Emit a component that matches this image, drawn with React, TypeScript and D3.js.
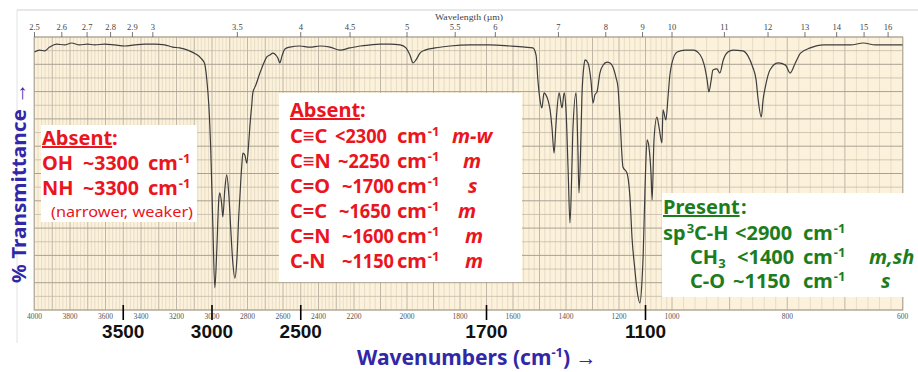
import React from 'react';
import * as d3 from 'd3';

// Spectrum (wavenumber cm-1, % transmittance)
const wavenumbers = [
  4000, 3972, 3944, 3915, 3876, 3831, 3791, 3746, 3701, 3661, 3605, 3549, 3492, 3436, 3379, 3323, 3266, 3221, 3182, 3137,
  3092, 3063, 3041, 3029, 3018, 3007, 2996, 2984, 2973, 2962, 2956, 2945, 2939, 2928, 2917, 2905, 2894, 2883, 2871, 2860,
  2849, 2843, 2832, 2826, 2815, 2804, 2792, 2787, 2776, 2770, 2753, 2730, 2708, 2691, 2674, 2657, 2640, 2629, 2618, 2606,
  2589, 2561, 2505, 2448, 2392, 2335, 2279, 2223, 2177, 2140, 2102, 2064, 2026, 2004, 1989, 1977, 1966, 1951, 1932, 1894,
  1838, 1762, 1687, 1611, 1555, 1525, 1513, 1506, 1498, 1491, 1483, 1476, 1468, 1460, 1453, 1445, 1438, 1434, 1426, 1415,
  1407, 1400, 1392, 1385, 1377, 1374, 1362, 1355, 1351, 1343, 1340, 1332, 1328, 1317, 1306, 1298, 1291, 1283, 1272, 1260,
  1245, 1234, 1223, 1211, 1204, 1196, 1185, 1170, 1158, 1151, 1140, 1132, 1121, 1113, 1109, 1102, 1094, 1087, 1079, 1075,
  1068, 1057, 1049, 1038, 1034, 1023, 1015, 1008, 1000, 991, 977, 963, 951, 944, 939, 936, 932, 929, 922, 917,
  911, 903, 894, 877, 868, 860, 854, 851, 845, 842, 838, 830, 816, 803, 795, 786, 777, 760, 737, 690,
  668, 647, 621, 600,
];
const transmittance = [
  94.5, 95.2, 94.9, 96.3, 97.4, 97.1, 97.8, 97.1, 97.4, 97.1, 97.4, 97.1, 96.7, 97.1, 97.4, 97.4, 97.1, 96.3, 96.0, 95.2,
  93.8, 92.3, 90.1, 84.2, 75.1, 58.6, 33.0, 8.1, 22.0, 40.3, 42.9, 38.5, 34.1, 44.0, 49.5, 42.1, 29.3, 17.6, 11.7, 18.3,
  34.8, 41.4, 53.1, 57.5, 56.8, 53.8, 62.3, 67.0, 75.1, 79.5, 82.4, 86.8, 90.5, 92.7, 93.4, 94.1, 93.4, 92.3, 90.5, 93.0,
  95.6, 96.3, 96.7, 96.3, 96.7, 96.3, 95.2, 96.0, 96.7, 97.1, 97.4, 97.4, 97.1, 96.0, 93.4, 90.5, 91.6, 94.1, 95.2, 96.0,
  96.7, 97.1, 97.1, 96.7, 96.3, 96.0, 93.4, 84.2, 76.9, 74.0, 79.5, 78.8, 76.9, 73.3, 67.0, 57.5, 67.8, 73.3, 79.5, 74.0,
  79.5, 73.3, 51.3, 31.9, 54.9, 65.9, 79.5, 58.6, 42.9, 65.9, 78.0, 89.7, 91.6, 90.5, 84.2, 75.8, 78.8, 79.9, 86.8, 89.7,
  90.8, 90.5, 89.0, 85.0, 81.7, 69.6, 52.4, 50.2, 40.3, 26.7, 14.7, 7.3, 2.6, 11.0, 19.4, 44.0, 62.3, 59.7, 49.5, 40.3,
  62.3, 70.7, 67.0, 61.2, 73.3, 69.6, 78.0, 86.1, 90.5, 94.5, 95.2, 95.2, 93.4, 89.7, 84.2, 79.9, 84.2, 87.9, 88.3, 86.8,
  91.6, 94.5, 95.2, 94.9, 93.0, 89.0, 84.2, 78.0, 70.7, 76.9, 81.7, 87.9, 90.5, 89.7, 86.8, 90.5, 94.1, 96.0, 97.1, 97.1,
  97.8, 97.1, 97.1, 97.1,
];

const wavelengthTicks = [2.5, 2.6, 2.7, 2.8, 2.9, 3, 3.5, 4, 4.5, 5, 5.5, 6, 7, 8, 9, 10, 11, 12, 13, 14, 15, 16];
const wavenumberTicks = [4000, 3800, 3600, 3400, 3200, 3000, 2800, 2600, 2400, 2200, 2000, 1800, 1600, 1400, 1200, 1000, 800, 600];
const markedWavenumbers = [3500, 3000, 2500, 1700, 1100];

const RED = '#ea1520';
const GREEN = '#1d7d1d';
const BLUE = '#3128a8';
const FONT = "'Comic Sans MS', 'Noto Sans', sans-serif";

type Seg = { t: string; x: number; sup?: string; sub?: string; it?: boolean; u?: boolean; len?: number };

function Line({ segs, y, color }: { segs: Seg[]; y: number; color: string }) {
  return (
    <g>
      {segs.map((s, i) => (
        <text
          key={i}
          x={s.x}
          y={y}
          fill={color}
          fontFamily={FONT}
          fontWeight={700}
          fontStyle={s.it ? 'italic' : 'normal'}
          fontSize={20}
          textLength={s.len}
          lengthAdjust={s.len ? 'spacingAndGlyphs' : undefined}
        >
          <tspan textDecoration={s.u ? 'underline' : undefined}>{s.t}</tspan>
          {s.sup ? (
            <tspan dx={1} dy={-7} fontSize={13}>
              {s.sup}
            </tspan>
          ) : null}
          {s.sub ? (
            <tspan dx={0} dy={4} fontSize={13}>
              {s.sub}
            </tspan>
          ) : null}
        </text>
      ))}
    </g>
  );
}

export default function App() {
  const x = d3.scaleLinear().domain([4000, 2200, 1000, 600]).range([34.5, 354, 672, 902.5]);
  const y = d3.scaleLinear().domain([0, 100]).range([310, 37]);
  const pl = { left: 34, right: 903, top: 37, bottom: 310 };

  const vgrid = d3.range(4000, 599, -20);
  const hgrid = d3.range(0, 101, 5);

  const pts: [number, number][] = wavenumbers.map((w, i) => [w, transmittance[i]]);
  const line = d3
    .line<[number, number]>()
    .x((d) => x(d[0]))
    .y((d) => y(d[1]))
    .curve(d3.curveMonotoneX);

  const box2Rows: { label: string; val: string; vx: number; strength: string; sx: number }[] = [
    { label: 'C≡C', val: '<2300', vx: 335, strength: 'm-w', sx: 452 },
    { label: 'C≡N', val: '~2250', vx: 338, strength: 'm', sx: 463 },
    { label: 'C=O', val: '~1700', vx: 342, strength: 's', sx: 468 },
    { label: 'C=C', val: '~1650', vx: 339, strength: 'm', sx: 458 },
    { label: 'C=N', val: '~1600', vx: 342, strength: 'm', sx: 465 },
    { label: 'C-N', val: '~1150', vx: 342, strength: 'm', sx: 465 },
  ];

  return (
    <div style={{ position: 'absolute', left: 0, top: 0 }}>
      <svg width={918} height={372} style={{ display: 'block', background: '#fff' }}>
        {/* outer frame of scanned figure */}
        <line x1={17} x2={918} y1={10} y2={10} stroke="#cfcfcf" strokeWidth={1} />
        <line x1={17} x2={17} y1={10} y2={343} stroke="#e2e2e2" strokeWidth={1} />

        {/* plot background */}
        <rect x={pl.left} y={pl.top} width={pl.right - pl.left} height={pl.bottom - pl.top} fill="#fcf2dc" />
        {vgrid.map((w) => (
          <line
            key={'v' + w}
            x1={x(w)}
            x2={x(w)}
            y1={pl.top}
            y2={pl.bottom}
            stroke={w % 100 === 0 ? '#b9af9e' : '#d8ccb6'}
            strokeWidth={w % 100 === 0 ? 0.9 : 0.6}
          />
        ))}
        {hgrid.map((t) => (
          <line
            key={'h' + t}
            x1={pl.left}
            x2={pl.right}
            y1={y(t)}
            y2={y(t)}
            stroke={t % 10 === 0 ? '#aaa192' : '#c4baa7'}
            strokeWidth={t % 10 === 0 ? 1 : 0.8}
          />
        ))}
        <rect x={pl.left} y={pl.top} width={pl.right - pl.left} height={pl.bottom - pl.top} fill="none" stroke="#b0a795" strokeWidth={0.8} />

        {/* top wavelength axis */}
        <text x={469} y={20} textAnchor="middle" fontFamily="'Liberation Serif', serif" fontSize={8} fill="#444" textLength={68} lengthAdjust="spacingAndGlyphs">
          Wavelength (µm)
        </text>
        {wavelengthTicks.map((l) => (
          <g key={'wl' + l}>
            <line x1={x(10000 / l)} x2={x(10000 / l)} y1={32} y2={pl.top} stroke="#555" strokeWidth={0.8} />
            <text x={x(10000 / l)} y={30} textAnchor="middle" fontFamily="'Liberation Serif', serif" fontSize={8.5} fill="#444">
              {String(l)}
            </text>
          </g>
        ))}

        {/* bottom small wavenumber labels */}
        {wavenumberTicks.map((w) => (
          <text key={'wn' + w} x={x(w)} y={319} textAnchor="middle" fontFamily="'Liberation Serif', serif" fontSize={7.5} fill="#555">
            {String(w)}
          </text>
        ))}

        {/* spectrum */}
        <path d={line(pts) ?? ''} fill="none" stroke="#3d3d3d" strokeWidth={1.2} strokeLinejoin="round" />

        {/* marked wavenumbers */}
        {markedWavenumbers.map((w) => (
          <g key={'m' + w}>
            <line x1={x(w)} x2={x(w)} y1={305} y2={320} stroke="#000" strokeWidth={1.6} />
            <text x={x(w)} y={338} textAnchor="middle" fontFamily="'Liberation Sans', Arial, sans-serif" fontWeight={700} fontSize={19} fill="#111">
              {String(w)}
            </text>
          </g>
        ))}

        {/* box 1 */}
        <rect x={41} y={125} width={156} height={97} fill="#fff" />
        <Line y={145} color={RED} segs={[{ t: 'Absent', x: 42, u: true }, { t: ':', x: 112 }]} />
        <Line y={170} color={RED} segs={[{ t: 'OH', x: 42 }, { t: '~3300', x: 83, len: 56 }, { t: 'cm', x: 148, sup: '-1' }]} />
        <Line y={195} color={RED} segs={[{ t: 'NH', x: 42 }, { t: '~3300', x: 83, len: 56 }, { t: 'cm', x: 148, sup: '-1' }]} />
        <text x={51} y={217} fill={RED} fontFamily={FONT} fontSize={14} textLength={142} lengthAdjust="spacingAndGlyphs">
          (narrower, weaker)
        </text>

        {/* box 2 */}
        <rect x={279} y={93} width={243} height={189} fill="#fff" />
        <Line y={117} color={RED} segs={[{ t: 'Absent', x: 290, u: true }, { t: ':', x: 360 }]} />
        {box2Rows.map((r, i) => (
          <Line
            key={r.label}
            y={143 + i * 25}
            color={RED}
            segs={[
              { t: r.label, x: 290 },
              { t: r.val, x: r.vx, len: 52 },
              { t: 'cm', x: 397, sup: '-1' },
              { t: r.strength, x: r.sx, it: true },
            ]}
          />
        ))}

        {/* box 3 */}
        <rect x={662} y={193} width={256} height={104} fill="#fff" />
        <Line y={214} color={GREEN} segs={[{ t: 'Present', x: 663, u: true }, { t: ':', x: 741 }]} />
        <Line
          y={240}
          color={GREEN}
          segs={[
            { t: 'sp', x: 663, sup: '3' },
            { t: 'C-H', x: 694 },
            { t: '<2900', x: 735 },
            { t: 'cm', x: 803, sup: '-1' },
          ]}
        />
        <Line
          y={264}
          color={GREEN}
          segs={[
            { t: 'CH', x: 690, sub: '3' },
            { t: '<1400', x: 737 },
            { t: 'cm', x: 803, sup: '-1' },
            { t: 'm,sh', x: 869, it: true },
          ]}
        />
        <Line
          y={288}
          color={GREEN}
          segs={[
            { t: 'C-O', x: 690 },
            { t: '~1150', x: 733 },
            { t: 'cm', x: 803, sup: '-1' },
            { t: 's', x: 881, it: true },
          ]}
        />

        {/* axis titles */}
        <text
          transform="translate(26,183) rotate(-90)"
          textAnchor="middle"
          fill={BLUE}
          fontFamily={FONT}
          fontWeight={700}
          fontSize={20}
          textLength={200}
          lengthAdjust="spacingAndGlyphs"
        >
          % Transmittance →
        </text>
        <text x={357} y={365} fill={BLUE} fontFamily={FONT} fontWeight={700} fontSize={21}>
          <tspan>Wavenumbers (cm</tspan>
          <tspan dy={-8} fontSize={13}>-1</tspan>
          <tspan dy={8}>) →</tspan>
        </text>
      </svg>
    </div>
  );
}
